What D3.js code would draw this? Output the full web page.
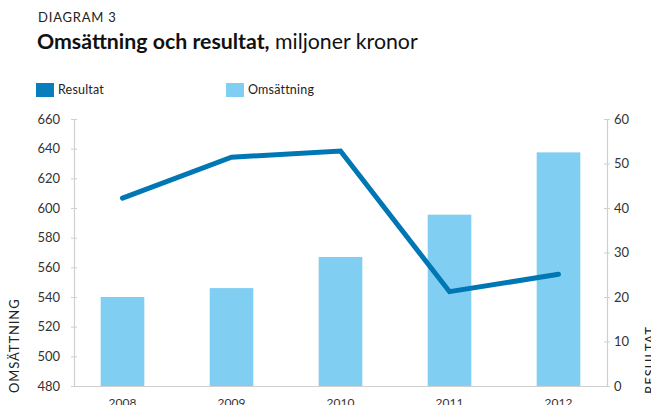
<!DOCTYPE html>
<html>
<head>
<meta charset="utf-8">
<script src="https://cdn.jsdelivr.net/npm/d3@7"></script>
<style>
  html, body { margin: 0; padding: 0; background: #fff; }
  svg { display: block; font-family: Lato, "Open Sans", sans-serif; }
</style>
</head>
<body>
<div id="chart"></div>
<script>
'use strict';

// Chart data
var years = ['2008', '2009', '2010', '2011', '2012'];
var omsattning = [540, 546, 567, 595.5, 637.5];   // bars, left axis
var resultat = [42.2, 51.4, 52.8, 21.2, 25.1];     // line, right axis
var leftTicks = [480, 500, 520, 540, 560, 580, 600, 620, 640, 660];
var rightTicks = [0, 10, 20, 30, 40, 50, 60];

(function() {
    var width = 651, height = 405;
    var margin = { left: 74, right: 44, top: 119, bottom: 19 };
    var plotW = width - margin.left - margin.right,
        plotH = height - margin.top - margin.bottom;

    var svg = d3.select('#chart')
        .append('svg')
            .attr('width', width)
            .attr('height', height);

    // Title
    svg.append('text')
        .attr('x', 38)
        .attr('y', 22)
        .attr('font-size', '13px')
        .attr('letter-spacing', '0.8px')
        .attr('fill', '#222')
        .text('DIAGRAM 3');

    var title = svg.append('text')
        .attr('x', 37)
        .attr('y', 49)
        .attr('font-size', '21.3px')
        .attr('fill', '#111');
    title.append('tspan').attr('font-weight', 'bold').text('Omsättning och resultat,');
    title.append('tspan').text(' miljoner kronor');

    // Legend
    var legend = [
        { label: 'Resultat', color: '#0a7dbd', x: 36 },
        { label: 'Omsättning', color: '#80cef2', x: 226 }
    ];
    var lg = svg.selectAll('.legend')
        .data(legend)
        .enter()
        .append('g')
            .attr('class', 'legend')
            .attr('transform', function(d) { return 'translate(' + d.x + ',83)'; });
    lg.append('rect')
        .attr('width', 18)
        .attr('height', 14)
        .attr('fill', function(d) { return d.color; });
    lg.append('text')
        .attr('x', 22)
        .attr('y', 11)
        .attr('font-size', '12.5px')
        .attr('letter-spacing', '0.2px')
        .attr('fill', '#222')
        .text(function(d) { return d.label; });

    var g = svg.append('g')
        .attr('transform', 'translate(' + margin.left + ',' + margin.top + ')');

    // Scales
    var x = d3.scaleBand()
        .domain(years)
        .range([0, plotW])
        .paddingInner(0.6)
        .paddingOuter(0.245);

    var yLeft = d3.scaleLinear()
        .domain([480, 660])
        .range([plotH, 0]);

    var yRight = d3.scaleLinear()
        .domain([0, 60])
        .range([plotH, 0]);

    // Bars
    g.selectAll('rect.bar')
        .data(omsattning)
        .enter()
        .append('rect')
            .attr('class', 'bar')
            .attr('x', function(d, i) { return x(years[i]); })
            .attr('y', function(d) { return yLeft(d); })
            .attr('width', x.bandwidth())
            .attr('height', function(d) { return plotH - yLeft(d); })
            .attr('fill', '#80cef2');

    // Axes
    var leftAxis = d3.axisLeft(yLeft)
        .tickValues(leftTicks)
        .tickSizeInner(3)
        .tickSizeOuter(0)
        .tickPadding(11);
    var la = g.append('g').attr('class', 'axis').call(leftAxis);

    var rightAxis = d3.axisRight(yRight)
        .tickValues(rightTicks)
        .tickSizeInner(3)
        .tickSizeOuter(0)
        .tickPadding(4);
    var ra = g.append('g')
        .attr('class', 'axis')
        .attr('transform', 'translate(' + plotW + ',0)')
        .call(rightAxis);

    var bottomAxis = d3.axisBottom(x)
        .tickSize(0)
        .tickSizeOuter(0)
        .tickPadding(12);
    var ba = g.append('g')
        .attr('class', 'axis')
        .attr('transform', 'translate(0,' + plotH + ')')
        .call(bottomAxis);

    // Ticks cross the axis line on both sides
    la.selectAll('.tick line').attr('x1', 3).attr('x2', -3);
    ra.selectAll('.tick line').attr('x1', -3).attr('x2', 3);

    [la, ra, ba].forEach(function(a) {
        a.select('.domain').attr('stroke', '#cfcfcf').attr('stroke-width', 1.2);
        a.selectAll('.tick line').attr('stroke', '#cfcfcf');
        a.selectAll('.tick text')
            .attr('font-family', 'Lato, sans-serif')
            .attr('font-size', '13px')
            .attr('fill', '#333');
    });
    ba.selectAll('.tick text').attr('font-size', '12px');

    // Line
    var line = d3.line()
        .x(function(d, i) { return x(years[i]) + x.bandwidth() / 2; })
        .y(function(d) { return yRight(d); });

    g.append('path')
        .datum(resultat)
        .attr('d', line)
        .attr('fill', 'none')
        .attr('stroke', '#0077b5')
        .attr('stroke-width', 5)
        .attr('stroke-linecap', 'round')
        .attr('stroke-linejoin', 'miter');

    // Axis titles
    svg.append('text')
        .attr('transform', 'translate(19,393) rotate(-90)')
        .attr('font-size', '13px')
        .attr('letter-spacing', '0.9px')
        .attr('fill', '#222')
        .text('OMSÄTTNING');

    svg.append('text')
        .attr('transform', 'translate(655,394) rotate(-90)')
        .attr('font-size', '13px')
        .attr('letter-spacing', '1px')
        .attr('fill', '#222')
        .text('RESULTAT');
})();
</script>
</body>
</html>
